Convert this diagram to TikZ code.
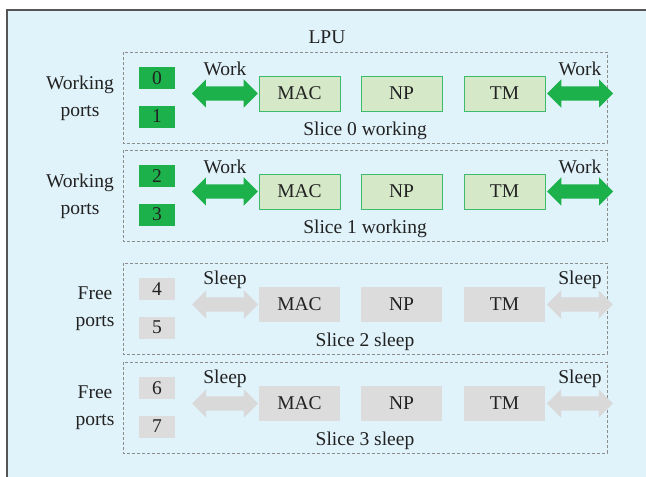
\documentclass[tikz,border=0pt]{standalone}
\usepackage{fontspec}
\setmainfont{Liberation Serif}
\usetikzlibrary{shapes.arrows}
\definecolor{lpubg}{HTML}{E0F2FA}
\definecolor{frameline}{HTML}{555555}
\definecolor{dashline}{HTML}{8C8C8C}
\definecolor{portgreen}{HTML}{1DB14B}
\definecolor{modgreen}{HTML}{D5E8C8}
\definecolor{modedge}{HTML}{3DBB6A}
\definecolor{greybox}{HTML}{DCDCDC}
\definecolor{greyarrow}{HTML}{D9D9D9}
\definecolor{txt}{HTML}{222222}
\tikzset{
  every node/.style={text=txt, font=\fontsize{19.5}{27}\selectfont},
  slicebox/.style={draw=dashline, dashed, dash pattern=on 3pt off 2pt, line width=0.8pt},
  portwork/.style={fill=portgreen, minimum width=36pt, minimum height=22pt, inner sep=0pt},
  portfree/.style={fill=greybox, minimum width=36pt, minimum height=22pt, inner sep=0pt},
  modwork/.style={fill=modgreen, draw=modedge, line width=0.9pt, minimum width=81pt, minimum height=35pt, inner sep=0pt},
  modfree/.style={fill=greybox, minimum width=81pt, minimum height=35pt, inner sep=0pt},
  dblarr/.style={double arrow, double arrow head extend=7pt, minimum height=66pt, inner sep=7pt, minimum width=28pt},
  arrwork/.style={dblarr, fill=portgreen},
  arrfree/.style={dblarr, fill=greyarrow},
  sidelabel/.style={align=center, inner sep=0pt},
}
\begin{document}
\begin{tikzpicture}[x=1pt, y=-1pt]
\useasboundingbox (0,0) rectangle (646,477);
\fill[lpubg] (7,10) rectangle (646,477);
\draw[frameline, line width=1.2pt] (7,480) -- (7,10) -- (650,10);
\node (lpu) at (327,37) {LPU};
\foreach \i/\off/\st/\pa/\pb/\side/\sx/\act/\state in {0/0/work/0/1/Working/80/Work/working, 1/98/work/2/3/Working/80/Work/working, 2/211/free/4/5/Free/95/Sleep/sleep, 3/310/free/6/7/Free/95/Sleep/sleep}{
  \draw[slicebox] (123,52+\off) rectangle (607,143+\off);
  \node[sidelabel] (side\i) at (\sx,98+\off) {\side\\ports};
  \node[port\st] (p\pa) at (157,78+\off) {\pa};
  \node[port\st] (p\pb) at (157,116.5+\off) {\pb};
  \node[mod\st] (mac\i) at (299.5,93.5+\off) {MAC};
  \node[mod\st] (np\i) at (401.5,93.5+\off) {NP};
  \node[mod\st] (tm\i) at (504.5,93.5+\off) {TM};
  \node[arr\st, anchor=east] (la\i) at ([xshift=-0.5pt]mac\i.west) {};
  \node[arr\st, anchor=west] (ra\i) at ([xshift=1.5pt]tm\i.east) {};
  \node (lt\i) at (225,69+\off) {\act};
  \node (rt\i) at (580,69+\off) {\act};
  \node (sl\i) at (365,131+\off) {Slice \i\ \state};
}
\end{tikzpicture}
\end{document}
